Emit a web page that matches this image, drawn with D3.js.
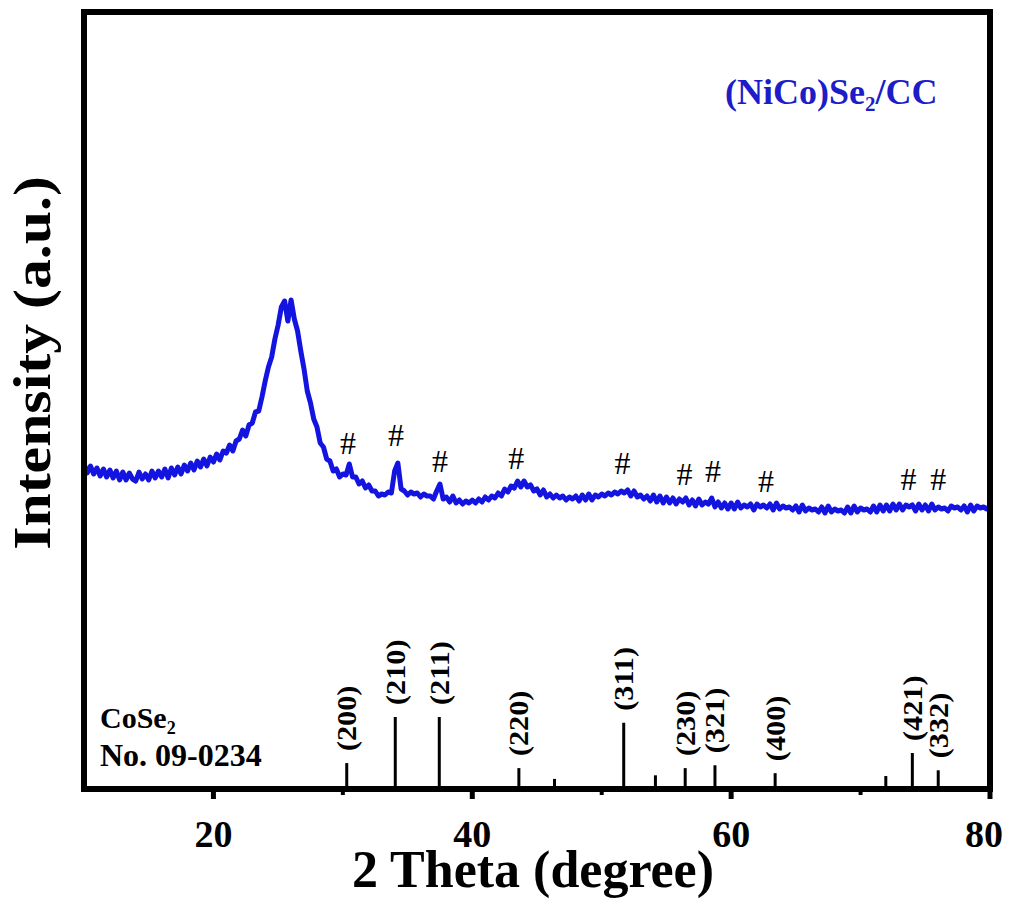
<!DOCTYPE html>
<html>
<head>
<meta charset="utf-8">
<script src="https://cdn.jsdelivr.net/npm/d3@7"></script>
<style>
  body { margin: 0; background: #fff; }
  text { font-family: "Liberation Serif", "Times New Roman", serif; }
</style>
</head>
<body>
<script>
// XRD pattern of (NiCo)Se2/CC with CoSe2 reference sticks

const margin = {top: 12, right: 24, left: 84, bottom: 113};
const outerWidth = 1014;
const outerHeight = 902;
const innerWidth = outerWidth - margin.left - margin.right;
const innerHeight = outerHeight - margin.top - margin.bottom;

// measured scan: 2theta starts at 10 deg, one reading every 0.25 deg
const thetaStart = 10;
const thetaStep = 0.25;
const intensity = [
  325, 316, 323, 315,  321, 313, 320, 312,  319, 311, 318, 309,  317, 309, 316, 310,
  308, 317, 310, 315,  309, 318, 311, 318,  312, 320, 311, 321,  314, 322, 315, 324,
  318, 326, 319, 328,  322, 330, 323, 332,  327, 335, 329, 338,  336, 344, 338, 348,
  350, 359, 353, 364,  366, 377, 378, 392,  408, 422, 432, 450,  464, 482, 488, 468,
  489, 470, 458, 438,  420, 398, 386, 370,  362, 346, 342, 330,  328, 318, 320, 312,
  315, 314, 325, 312,  312, 305, 308, 301,  304, 298, 298, 293,  295, 294, 297, 296,
  318, 326, 300, 298,  294, 297, 295, 296,  292, 295, 293, 293,  290, 298, 305, 290,
  292, 287, 293, 286,  289, 285, 288, 286,  289, 286, 290, 287,  292, 289, 293, 291,
  296, 293, 300, 297,  303, 301, 308, 302,  308, 302, 304, 298,  300, 294, 299, 292,
  295, 291, 294, 291,  293, 289, 292, 290,  293, 288, 294, 289,  295, 289, 294, 292,
  295, 293, 296, 294,  297, 295, 298, 296,  299, 293, 298, 292,  294, 290, 293, 288,
  294, 287, 293, 286,  292, 286, 291, 285,  290, 287, 291, 284,  289, 283, 290, 284,
  287, 285, 291, 282,  287, 281, 286, 280,  286, 280, 287, 281,  284, 282, 285, 279,
  285, 282, 284, 281,  285, 279, 286, 280,  283, 281, 282, 279,  283, 277, 284, 278,
  281, 279, 280, 277,  282, 276, 283, 277,  280, 278, 279, 276,  282, 276, 283, 277,
  281, 279, 280, 277,  283, 277, 284, 278,  284, 278, 285, 279,  285, 279, 284, 282,
  284, 278, 285, 279,  284, 278, 285, 279,  282, 280, 281, 278,  283, 281, 282, 279,
  283, 277, 284, 278,  283, 281, 282, 280,  283
];

// "#" markers over the CoSe2 reflections
const hashTheta = [30.4, 34.1, 37.5, 43.4, 51.6, 56.4, 58.6, 62.7, 73.7, 76.0];
const hashLevel = [346, 354, 328, 331, 326, 315, 318, 308, 310, 310];

// CoSe2 card No. 09-0234
const stickTheta = [30.3, 34.05, 37.45, 43.6, 46.35, 51.7, 54.15, 56.45, 58.75, 63.4, 71.95, 74.0, 76.0];
const stickRel   = [36, 100, 100, 29, 14, 92, 19, 29, 33, 22, 18, 50, 26];
const stickHkl   = ["(200)", "(210)", "(211)", "(220)", "", "(311)", "", "(230)", "(321)", "(400)", "", "(421)", "(332)"];

const xTicks = [20, 40, 60, 80];
const xMinor = [30, 50, 70];

const svg = d3.select("body").append("svg")
    .attr("width", outerWidth)
    .attr("height", outerHeight);

const g = svg.append("g")
    .attr("transform", "translate(" + margin.left + "," + margin.top + ")");

const x = d3.scaleLinear().domain([10, 80]).range([0, innerWidth]);
const y = d3.scaleLinear().domain([0, innerHeight]).range([innerHeight, 0]);
const stickH = d3.scaleLinear().domain([0, 100]).range([0, 72]);

// scan curve
const scan = intensity.map((v, i) => [thetaStart + i * thetaStep, v]);
const line = d3.line().x(d => x(d[0])).y(d => y(d[1]));

g.append("path")
    .datum(scan)
    .attr("d", line)
    .attr("fill", "none")
    .attr("stroke", "#1414e0")
    .attr("stroke-width", 5)
    .attr("stroke-linejoin", "round");

g.selectAll(".hash")
    .data(hashTheta)
    .join("text")
    .attr("class", "hash")
    .attr("x", d => x(d))
    .attr("y", (d, i) => y(hashLevel[i]))
    .attr("dy", "0.35em")
    .style("text-anchor", "middle")
    .style("font-size", "32px")
    .text("#");

// reference sticks
const sticks = stickTheta.map((t, i) => ({t: t, r: stickRel[i], hkl: stickHkl[i]}));

g.selectAll(".stick")
    .data(sticks)
    .join("line")
    .attr("class", "stick")
    .attr("x1", d => x(d.t))
    .attr("x2", d => x(d.t))
    .attr("y1", innerHeight)
    .attr("y2", d => innerHeight - stickH(d.r))
    .attr("stroke", "#000")
    .attr("stroke-width", 3);

g.selectAll(".hkl")
    .data(sticks.filter(d => d.hkl))
    .join("text")
    .attr("class", "hkl")
    .attr("transform", d => "translate(" + x(d.t) + "," + (innerHeight - stickH(d.r) - 12) + ") rotate(-90) scale(1.12,1)")
    .attr("dy", "0.35em")
    .style("font-size", "27px")
    .style("font-weight", "bold")
    .text(d => d.hkl);

// x axis with outward ticks
const xAxis = g.append("g")
    .attr("transform", "translate(0," + innerHeight + ")");

xAxis.selectAll(".major")
    .data(xTicks)
    .join("line")
    .attr("x1", d => x(d)).attr("x2", d => x(d))
    .attr("y1", 0).attr("y2", 10)
    .attr("stroke", "#000").attr("stroke-width", 5);

xAxis.selectAll(".minor")
    .data(xMinor)
    .join("line")
    .attr("x1", d => x(d)).attr("x2", d => x(d))
    .attr("y1", 0).attr("y2", 6)
    .attr("stroke", "#000").attr("stroke-width", 4);

xAxis.selectAll(".tlabel")
    .data(xTicks)
    .join("text")
    .attr("class", "tlabel")
    .attr("x", d => x(d) - (d === 80 ? 6 : 0))
    .attr("y", 58)
    .style("text-anchor", "middle")
    .style("font-size", "38px")
    .style("font-weight", "bold")
    .text(d => d);

// frame
g.append("rect")
    .attr("width", innerWidth)
    .attr("height", innerHeight)
    .attr("fill", "none")
    .attr("stroke", "#000")
    .attr("stroke-width", 6);

// axis titles
svg.append("text")
    .attr("x", margin.left + innerWidth / 2 - 4)
    .attr("y", 887)
    .style("text-anchor", "middle")
    .style("font-size", "52px")
    .style("font-weight", "bold")
    .text("2 Theta (degree)");

svg.append("text")
    .attr("transform", "translate(50," + (margin.top + 351) + ") rotate(-90) scale(1.15,1)")
    .style("text-anchor", "middle")
    .style("font-size", "52px")
    .style("font-weight", "bold")
    .text("Intensity (a.u.)");

// sample label
const sample = g.append("text")
    .attr("x", 641)
    .attr("y", 92)
    .style("font-size", "36px")
    .style("font-weight", "bold")
    .style("fill", "#1c1cc8");
sample.append("tspan").text("(NiCo)Se");
sample.append("tspan").attr("dy", 7).style("font-size", "21px").text("2");
sample.append("tspan").attr("dy", -7).text("/CC");

// card label
const card = g.append("text")
    .attr("x", 16)
    .attr("y", 716)
    .style("font-size", "30px")
    .style("font-weight", "bold");
card.append("tspan").text("CoSe");
card.append("tspan").attr("dy", 6).style("font-size", "18px").text("2");

g.append("text")
    .attr("x", 16)
    .attr("y", 754)
    .style("font-size", "32px")
    .style("font-weight", "bold")
    .text("No. 09-0234");
</script>
</body>
</html>
